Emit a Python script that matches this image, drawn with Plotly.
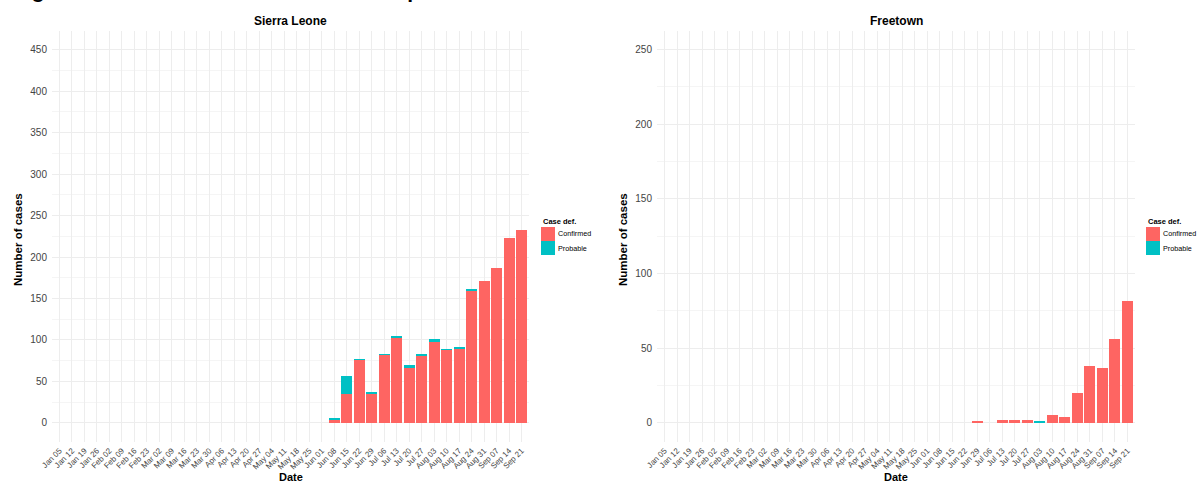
import plotly.graph_objects as go

# ---------------- data ----------------
weeks = ["Jan 05", "Jan 12", "Jan 19", "Jan 26", "Feb 02", "Feb 09", "Feb 16", "Feb 23",
         "Mar 02", "Mar 09", "Mar 16", "Mar 23", "Mar 30", "Apr 06", "Apr 13", "Apr 20",
         "Apr 27", "May 04", "May 11", "May 18", "May 25", "Jun 01", "Jun 08", "Jun 15",
         "Jun 22", "Jun 29", "Jul 06", "Jul 13", "Jul 20", "Jul 27", "Aug 03", "Aug 10",
         "Aug 17", "Aug 24", "Aug 31", "Sep 07", "Sep 14", "Sep 21"]

sl_confirmed = [0] * 22 + [4, 35, 76, 35, 82, 103, 66, 81, 98, 88, 90, 160, 171, 187, 223, 232]
sl_probable = [0] * 22 + [2, 22, 1, 2, 1, 2, 4, 1, 3, 1, 1, 2, 0, 0, 0, 0]

ft_confirmed = [0] * 25 + [1, 0, 2, 2, 2, 0, 5, 4, 20, 38, 37, 56, 82]
ft_probable = [0] * 25 + [0, 0, 0, 0, 0, 1, 0, 0, 0, 0, 0, 0, 0]

y_ticks_sl = [0, 50, 100, 150, 200, 250, 300, 350, 400, 450]
y_ticks_ft = [0, 50, 100, 150, 200, 250]

panel_titles = ["Sierra Leone", "Freetown"]
legend_title = "Case def."
series_names = ["Confirmed", "Probable"]

# ---------------- style ----------------
W, H = 1197, 486
C_CONF = "#FE6562"
C_PROB = "#00C0C4"
GRID = "#EDEDED"
GRID_MINOR = "#F5F5F5"
TXT = "#444444"
FONT = "Liberation Sans, Arial, sans-serif"


def fx(px):
    return px / W


def fy(py):
    return 1 - py / H


top_px, bot_px = 31.0, 441.6
left_dom = [fx(52), fx(529)]
right_dom = [fx(657), fx(1135)]
y_dom = [fy(bot_px), fy(top_px)]

fig = go.Figure()

bar_kw = dict(width=0.88, marker_line_width=0, showlegend=False)
fig.add_trace(go.Bar(x=weeks, y=sl_confirmed, name=series_names[0], marker_color=C_CONF,
                     xaxis="x", yaxis="y", **bar_kw))
fig.add_trace(go.Bar(x=weeks, y=sl_probable, name=series_names[1], marker_color=C_PROB,
                     xaxis="x", yaxis="y", **bar_kw))
fig.add_trace(go.Bar(x=weeks, y=ft_confirmed, name=series_names[0], marker_color=C_CONF,
                     xaxis="x2", yaxis="y2", **bar_kw))
fig.add_trace(go.Bar(x=weeks, y=ft_probable, name=series_names[1], marker_color=C_PROB,
                     xaxis="x2", yaxis="y2", **bar_kw))

xax = dict(type="category", categoryorder="array", categoryarray=weeks,
           range=[-0.6, len(weeks) - 0.4], showgrid=True, gridcolor=GRID, gridwidth=1,
           zeroline=False, showline=False, ticks="", tickangle=-45,
           tickfont=dict(family=FONT, size=8, color=TXT), automargin=False,
           ticklabelstandoff=2)


def yax(maxv, ticks, domain_anchor):
    pad = maxv * 0.05
    return dict(range=[-pad, maxv + pad], tickvals=ticks, showgrid=True, gridcolor=GRID,
                gridwidth=1, zeroline=False, showline=False, ticks="",
                tickfont=dict(family=FONT, size=10, color=TXT), automargin=False,
                ticklabelstandoff=4, anchor=domain_anchor, domain=y_dom,
                minor=dict(dtick=25, tick0=0, showgrid=True, gridcolor=GRID_MINOR, gridwidth=1))


fig.update_layout(
    width=W, height=H,
    margin=dict(l=0, r=0, t=0, b=0),
    paper_bgcolor="white", plot_bgcolor="white",
    barmode="stack", bargap=0.12,
    font=dict(family=FONT, color="black"),
    xaxis=dict(xax, domain=left_dom, anchor="y"),
    xaxis2=dict(xax, domain=right_dom, anchor="y2"),
    yaxis=yax(450, y_ticks_sl, "x"),
    yaxis2=yax(250, y_ticks_ft, "x2"),
)

ann = []
# figure caption, mostly above the visible area as in the reference
ann.append(dict(text="<b>Figure 4: Distribution of confirmed and probable cases</b>",
                x=fx(11), y=fy(4), xref="paper", yref="paper", xanchor="left",
                yanchor="bottom", showarrow=False, font=dict(size=21, color="black")))
for dom, title in zip([left_dom, right_dom], panel_titles):
    cx = (dom[0] + dom[1]) / 2
    ann.append(dict(text="<b>%s</b>" % title, x=cx, y=fy(21), xref="paper", yref="paper",
                    xanchor="center", yanchor="middle", showarrow=False,
                    font=dict(size=12, color="black")))
    ann.append(dict(text="<b>Date</b>", x=cx, y=fy(485), xref="paper", yref="paper",
                    xanchor="center", yanchor="bottom", showarrow=False,
                    font=dict(size=11, color="black")))

for xpix in [18, 623]:
    ann.append(dict(text="<b>Number of cases</b>", x=fx(xpix), y=fy(240), xref="paper",
                    yref="paper", xanchor="center", yanchor="middle", textangle=-90,
                    showarrow=False, font=dict(size=11.5, color="black")))

# legends (ggplot style keys)
shapes = []
for lx in [541, 1146]:
    ann.append(dict(text="<b>%s</b>" % legend_title, x=fx(lx), y=fy(221), xref="paper",
                    yref="paper", xanchor="left", yanchor="middle", showarrow=False,
                    font=dict(size=7.5, color="black")))
    for i, (nm, col) in enumerate(zip(series_names, [C_CONF, C_PROB])):
        y0 = 227 + i * 14
        shapes.append(dict(type="rect", xref="paper", yref="paper",
                           x0=fx(lx), x1=fx(lx + 14), y0=fy(y0 + 14), y1=fy(y0),
                           fillcolor=col, line=dict(width=0)))
        ann.append(dict(text=nm, x=fx(lx + 15), y=fy(y0 + 7), xref="paper", yref="paper",
                        xanchor="left", yanchor="middle", showarrow=False,
                        font=dict(size=7.2, color="black")))

fig.update_layout(annotations=ann, shapes=shapes)
fig.write_html("out.html")
